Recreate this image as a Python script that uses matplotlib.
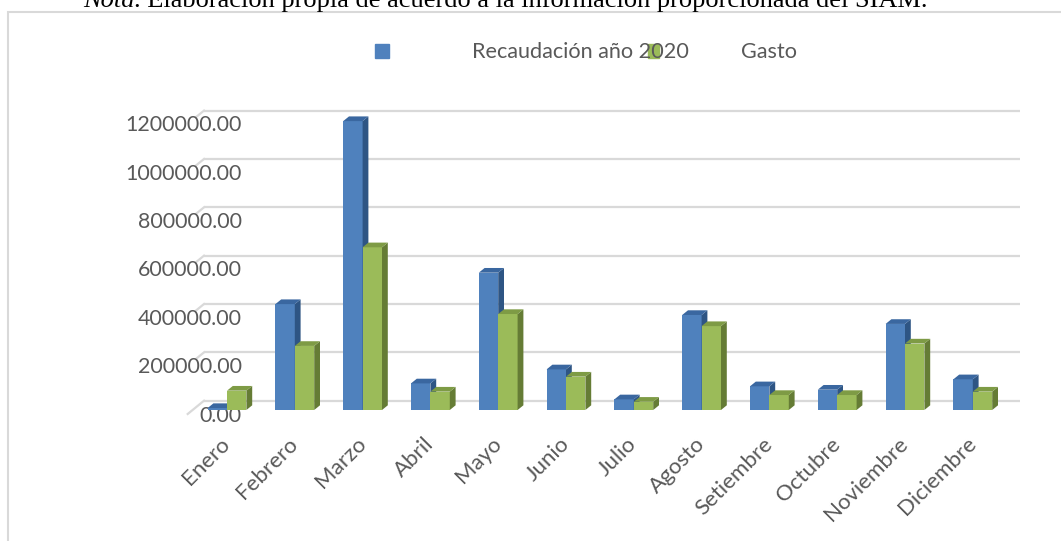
import matplotlib
matplotlib.use("Agg")
import matplotlib.pyplot as plt
from matplotlib.patches import Polygon, Rectangle
from matplotlib.transforms import ScaledTranslation

meses = ["Enero", "Febrero", "Marzo", "Abril", "Mayo", "Junio", "Julio",
         "Agosto", "Setiembre", "Octubre", "Noviembre", "Diciembre"]
recaudacion = [8000, 438000, 1195000, 110000, 568000, 168000, 44000,
               393000, 98000, 84000, 356000, 127000]
gasto = [80000, 265000, 673000, 76000, 397000, 138000, 34000,
         347000, 62000, 62000, 275000, 76000]
yticks = [0, 200000, 400000, 600000, 800000, 1000000, 1200000]
series_names = ["Recaudación año 2020", "Gasto"]

W, H = 1061, 541
GRIS = "#595959"
GRID = "#D9D9D9"
FONT = "Lato"

# pixel geometry of the Excel-like 3D plot
px_cat = 67.8                  # px between categories
px_val = 48.35 / 200000        # px per unit value
ax_l, ax_r, ax_t, ax_b = 187, 1020, 100, 420
x0_px, base_px = 227, 410      # first category centre, front baseline

fig = plt.figure(figsize=(W / 100, H / 100), dpi=100)
ax = fig.add_axes([ax_l / W, 1 - ax_b / H, (ax_r - ax_l) / W, (ax_b - ax_t) / H])

xmin = -(x0_px - ax_l) / px_cat
xmax = xmin + (ax_r - ax_l) / px_cat
ymin = -(ax_b - base_px) / px_val
ymax = (base_px - ax_t) / px_val
ax.set_xlim(xmin, xmax)
ax.set_ylim(ymin, ymax)

w = 19.4 / px_cat
ddx = 5.8 / px_cat
ddy = 4.7 / px_val

# back wall gridlines
g_off = 9.3 / px_val
gx0 = xmin + (204 - ax_l) / px_cat
for v in yticks:
    gy = v + g_off
    ax.plot([gx0, xmax], [gy, gy], color=GRID, lw=1.6, zorder=0,
            solid_capstyle="butt", clip_on=False)
    sl = 16.3 if v == 0 else 8
    ax.plot([gx0 - sl / px_cat, gx0], [gy - sl * 13.3 / 16.3 / px_val, gy],
            color=GRID, lw=1.6, zorder=0, clip_on=False)


def barras_3d(xs, vals, front, side, top, z):
    ax.bar(xs, vals, width=w, color=front, zorder=z, linewidth=0)
    for x, h in zip(xs, vals):
        r = x + w / 2
        l = x - w / 2
        ax.add_patch(Polygon([(r, 0), (r + ddx, ddy), (r + ddx, h + ddy), (r, h)],
                             closed=True, facecolor=side, edgecolor="none", zorder=z))
        ax.add_patch(Polygon([(l, h), (l + ddx, h + ddy), (r + ddx, h + ddy), (r, h)],
                             closed=True, facecolor=top, edgecolor="none", zorder=z))


idx = list(range(len(meses)))
barras_3d([i - w / 2 for i in idx], recaudacion, "#4F81BD", "#2E5584", "#3A67A0", 2)
barras_3d([i + w / 2 for i in idx], gasto, "#9BBB59", "#657C35", "#7E9B45", 3)

for s in ax.spines.values():
    s.set_visible(False)

ax.set_yticks(yticks)
ax.set_yticklabels([f"{v:.2f}" for v in yticks], fontsize=15.4, color=GRIS, family=FONT)
ax.tick_params(axis="y", length=0, pad=-(242 - ax_l) * 0.72)
for lab in ax.get_yticklabels():
    lab.set_transform(lab.get_transform() + ScaledTranslation(0, -3.5 / 100, fig.dpi_scale_trans))

ax.set_xticks(idx)
ax.set_xticklabels(meses, fontsize=16, color=GRIS, family=FONT,
                   rotation=45, ha="right", va="center", rotation_mode="anchor")
ax.tick_params(axis="x", length=0, pad=15)

# legend (Excel layout)
fig.add_artist(Rectangle((375 / W, 1 - 57.7 / H), 14 / W, 13.7 / H,
                         transform=fig.transFigure, color="#4F81BD"))
fig.text(472 / W, 1 - 52 / H, series_names[0], fontsize=15.6, color=GRIS,
         family=FONT, va="center", ha="left")
fig.add_artist(Rectangle((648 / W, 1 - 57.7 / H), 11 / W, 13.7 / H,
                         transform=fig.transFigure, color="#9BBB59"))
fig.text(741 / W, 1 - 52 / H, series_names[1], fontsize=15.6, color=GRIS,
         family=FONT, va="center", ha="left")

# chart border
fig.add_artist(Rectangle((8 / W, -0.1), 1.2, 1 - 12 / H + 0.1, transform=fig.transFigure,
                         fill=False, edgecolor=GRID, lw=1.5))

# caption, cut at the top of the picture
t1 = fig.text(83 / W, 1 - 7 / H, "Nota", fontsize=19, style="italic",
              family="Liberation Serif", va="baseline", ha="left")
fig.canvas.draw()
bb = t1.get_window_extent()
fig.text(bb.x1 / W, 1 - 7 / H,
         ". Elaboración propia de acuerdo a la información proporcionada del SIAM.",
         fontsize=19, family="Liberation Serif", va="baseline", ha="left")

fig.savefig("out.png", dpi=100)
